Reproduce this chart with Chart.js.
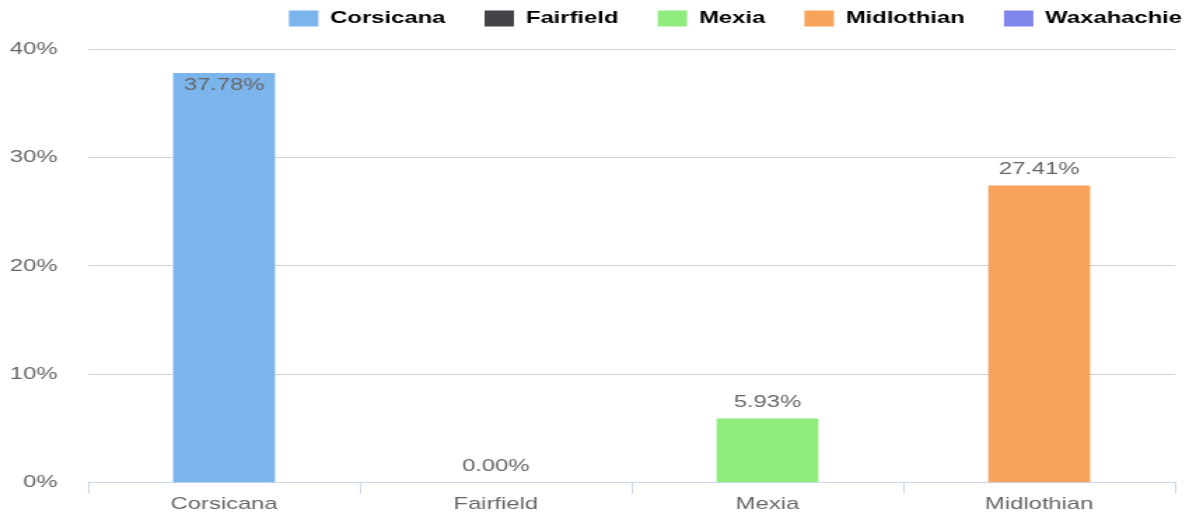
<!DOCTYPE html>
<html>
<head>
<meta charset="utf-8">
<script src="https://cdn.jsdelivr.net/npm/chart.js@4.4.1/dist/chart.umd.min.js"></script>
<style>
    html, body { margin: 0; padding: 0; background: #fff; overflow: hidden; }
    #wrap {
        width: 854px;
        height: 515px;
        transform: scaleX(1.40047);
        transform-origin: 0 0;
    }
</style>
</head>
<body>
<div id="wrap"><canvas id="shareChart"></canvas></div>
<script>
const categories = ['Corsicana', 'Fairfield', 'Mexia', 'Midlothian'];
const shares = [37.78, 0.00, 5.93, 27.41];
const legendNames = ['Corsicana', 'Fairfield', 'Mexia', 'Midlothian', 'Waxahachie'];
const palette = ['#7cb5ec', '#434348', '#90ed7d', '#f7a35c', '#8085e9'];
const yTicks = [0, 10, 20, 30, 40];

const fontFamily = '"Liberation Sans", Arial, sans-serif';

// draws the value above each bar, or just inside it when there is no room
const barLabels = {
    id: 'barLabels',
    afterDatasetsDraw(chart) {
        const ctx = chart.ctx;
        const meta = chart.getDatasetMeta(0);
        ctx.save();
        ctx.font = '17px ' + fontFamily;
        ctx.fillStyle = '#666666';
        ctx.textAlign = 'center';
        ctx.textBaseline = 'middle';
        meta.data.forEach((bar, i) => {
            const text = shares[i].toFixed(2) + '%';
            let y = bar.y - 16;
            if (y - 8 < chart.chartArea.top + 8) {
                y = bar.y + 12;
            }
            ctx.fillText(text, bar.x, y);
        });
        ctx.restore();
    }
};

// nudge the legend up and to the right, like the original
const legendShift = {
    id: 'legendShift',
    afterLayout(chart) {
        chart.legend.top -= 12;
        chart.legend.right += 33;
    }
};

const ctx = document.getElementById('shareChart').getContext('2d');
const shareChart = new Chart(ctx, {
    type: 'bar',
    data: {
        labels: categories,
        datasets: [{
            data: shares,
            backgroundColor: palette.slice(0, categories.length),
            borderWidth: 0,
            categoryPercentage: 1,
            barPercentage: 0.375
        }]
    },
    options: {
        responsive: true,
        maintainAspectRatio: false,
        animation: false,
        layout: {
            padding: { left: 0, right: 15, top: -6, bottom: 0 }
        },
        scales: {
            x: {
                grid: {
                    offset: true,
                    drawOnChartArea: false,
                    tickLength: 11,
                    color: '#ccd6eb'
                },
                border: { color: '#ccd6eb' },
                ticks: {
                    color: '#666666',
                    padding: 0,
                    font: { size: 17, family: fontFamily }
                }
            },
            y: {
                min: 0,
                max: 40,
                afterBuildTicks: axis => {
                    axis.ticks = yTicks.map(v => ({ value: v }));
                },
                afterFit: axis => {
                    axis.width = 63;
                },
                grid: {
                    color: '#d2d2d2',
                    drawTicks: false
                },
                border: { display: false },
                ticks: {
                    color: '#666666',
                    padding: 22,
                    font: { size: 17, family: fontFamily },
                    callback: v => v + '%'
                }
            }
        },
        plugins: {
            legend: {
                position: 'top',
                align: 'end',
                labels: {
                    boxWidth: 21,
                    boxHeight: 16,
                    padding: 28,
                    color: '#333333',
                    font: { size: 17, weight: 'bold', family: fontFamily },
                    generateLabels: () => legendNames.map((name, i) => ({
                        text: name,
                        fillStyle: palette[i],
                        strokeStyle: palette[i],
                        lineWidth: 0,
                        hidden: false,
                        index: i
                    }))
                },
                onClick: () => {}
            },
            tooltip: { enabled: false }
        }
    },
    plugins: [barLabels, legendShift]
});
</script>
</body>
</html>
